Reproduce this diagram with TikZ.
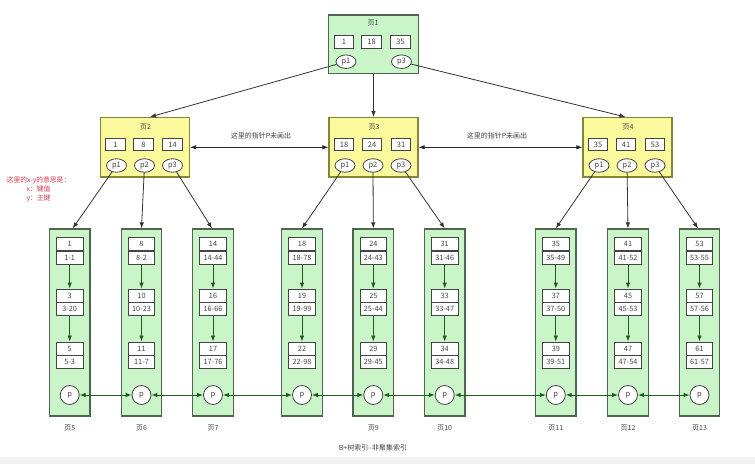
\documentclass[tikz,border=0pt]{standalone}
\usepackage{fontspec}
\setmainfont{Noto Sans CJK SC}
\usetikzlibrary{arrows.meta,shapes.geometric}

\definecolor{leaffill}{HTML}{C9F5C9}
\definecolor{leafline}{HTML}{4F654F}
\definecolor{innerfill}{HTML}{FAFA9C}
\definecolor{innerline}{HTML}{85853A}
\definecolor{notered}{HTML}{D23A55}
\definecolor{linkgreen}{HTML}{1F5A1F}
\definecolor{txtgray}{HTML}{444444}

\tikzset{
  pagebox/.style={draw=leafline, fill=leaffill, line width=1.2pt, inner sep=0pt},
  innerbox/.style={draw=innerline, fill=innerfill, line width=1.2pt, inner sep=0pt,
    minimum width=89pt, minimum height=59.5pt},
  keybox/.style={draw=txtgray, fill=white, line width=0.8pt, inner sep=0pt,
    minimum width=19.5pt, minimum height=12.5pt, font=\fontsize{7.5}{8}\selectfont, text=txtgray},
  ptr/.style={ellipse, draw=txtgray, fill=white, line width=0.8pt, inner sep=0pt,
    minimum width=20pt, minimum height=13.5pt, font=\fontsize{7.5}{8}\selectfont, text=txtgray},
  entry/.style={draw=txtgray, fill=white, line width=0.8pt, inner sep=0pt,
    minimum width=26.5pt, minimum height=13pt, font=\fontsize{7.3}{8}\selectfont, text=txtgray},
  pcirc/.style={circle, draw=txtgray, fill=white, line width=0.8pt, inner sep=0pt,
    minimum size=19pt, font=\fontsize{7.5}{8}\selectfont, text=txtgray},
  title/.style={font=\fontsize{7}{8}\selectfont, text=txtgray, inner sep=0pt},
  caption/.style={font=\fontsize{7}{8}\selectfont, text=txtgray, inner sep=0pt},
  treearrow/.style={draw=black!80, line width=0.8pt, -{Latex[length=6pt,width=4.5pt]}},
  bothways/.style={draw=black!85, line width=0.8pt, {Latex[length=6pt,width=4.5pt]}-{Latex[length=6pt,width=4.5pt]}},
  chainarrow/.style={draw=linkgreen, line width=0.9pt, -{Latex[length=6pt,width=4.5pt]}},
  siblink/.style={draw=linkgreen, line width=0.9pt, {Latex[length=6pt,width=4.5pt]}-{Latex[length=6pt,width=4.5pt]}},
}

% internal page: name, left x, title, three keys
\newcommand{\innerpage}[6]{%
  \node[innerbox] (#1) at (#2+44.5,147.3) {};
  \node[title] (#1t) at (#2+45,127) {#3};
  \node[keybox] (#1k1) at (#2+15,144.5) {#4};
  \node[keybox] (#1k2) at (#2+43,144.5) {#5};
  \node[keybox] (#1k3) at (#2+72,144.5) {#6};
  \node[ptr] (#1p1) at (#2+16,165.5) {p1};
  \node[ptr] (#1p2) at (#2+44,165.5) {p2};
  \node[ptr] (#1p3) at (#2+72,165.5) {p3};
}

% leaf page: name, centre x, label, three key / key-id pairs
\newcommand{\leafpage}[9]{%
  \node[pagebox, minimum width=40.5pt, minimum height=187pt] (#1) at (#2,322.5) {};
  \node[entry] (#1a) at (#2,244.3) {#4};
  \node[entry, anchor=north] (#1ab) at (#1a.south) {#5};
  \node[entry] (#1b) at (#2,295.5) {#6};
  \node[entry, anchor=north] (#1bb) at (#1b.south) {#7};
  \node[entry] (#1c) at (#2,348.5) {#8};
  \node[entry, anchor=north] (#1cb) at (#1c.south) {#9};
  \node[pcirc] (#1p) at (#2,395) {p};
  \draw[chainarrow] (#1ab.south) -- (#1b.north);
  \draw[chainarrow] (#1bb.south) -- (#1c.north);
  \node[caption] (#1l) at (#2,428.5) {#3};
}

\begin{document}
\begin{tikzpicture}[x=1pt, y=-1pt]
  \useasboundingbox (0,0) rectangle (755,464);
  \fill[white] (0,0) rectangle (755,457);
  \fill[black!5] (0,457) rectangle (755,464);

  % root page
  \node[pagebox, minimum width=90pt, minimum height=58.5pt] (root) at (373.5,44.3) {};
  \node[title] (roott) at (373,23.5) {页1};
  \node[keybox] (rootk1) at (344,42) {1};
  \node[keybox] (rootk2) at (371.5,42) {18};
  \node[keybox] (rootk3) at (400.5,42) {35};
  \node[ptr] (rootp1) at (346,61.7) {p1};
  \node[ptr] (rootp3) at (401.5,61.7) {p3};

  % second level
  \innerpage{pgB}{100.5}{页2}{1}{8}{14}
  \innerpage{pgC}{329}{页3}{18}{24}{31}
  \innerpage{pgD}{583}{页4}{35}{41}{53}

  % leaf level
  \leafpage{lfE}{69.7}{页5}{1}{1-1}{3}{3-20}{5}{5-3}
  \leafpage{lfF}{141.5}{页6}{8}{8-2}{10}{10-23}{11}{11-7}
  \leafpage{lfG}{213}{页7}{14}{14-44}{16}{16-66}{17}{17-76}
  \leafpage{lfH}{302}{}{18}{18-78}{19}{19-99}{22}{22-98}
  \leafpage{lfI}{373.3}{页9}{24}{24-43}{25}{25-44}{29}{29-45}
  \leafpage{lfJ}{444.7}{页10}{31}{31-46}{33}{33-47}{34}{34-48}
  \leafpage{lfK}{555.8}{页11}{35}{35-49}{37}{37-50}{39}{39-51}
  \leafpage{lfL}{628}{页12}{41}{41-52}{45}{45-53}{47}{47-54}
  \leafpage{lfM}{699.5}{页13}{53}{53-55}{57}{57-56}{61}{61-57}

  % root to second level
  \draw[treearrow] (rootp1) -- ([xshift=5pt]pgB.north);
  \draw[treearrow] (root.south) -- (pgC.north);
  \draw[treearrow] (rootp3) -- ([xshift=-2pt]pgD.north);

  % sibling pointers on the second level
  \draw[bothways] (pgB.east) -- (pgC.west);
  \draw[bothways] (pgC.east) -- (pgD.west);
  \node[caption] (noteBC) at (261,135.5) {这里的指针P未画出};
  \node[caption] (noteCD) at (497,135.5) {这里的指针P未画出};

  % second level to leaves
  \draw[treearrow] (pgBp1) -- ([xshift=3pt]lfE.north);
  \draw[treearrow] (pgBp2) -- (lfF.north);
  \draw[treearrow] (pgBp3) -- ([xshift=-1pt]lfG.north);
  \draw[treearrow] (pgCp1) -- (lfH.north);
  \draw[treearrow] (pgCp2) -- (lfI.north);
  \draw[treearrow] (pgCp3) -- (lfJ.north);
  \draw[treearrow] (pgDp1) -- (lfK.north);
  \draw[treearrow] (pgDp2) -- (lfL.north);
  \draw[treearrow] (pgDp3) -- ([xshift=-1.5pt]lfM.north);

  % leaf chain
  \draw[siblink] (lfEp) -- (lfFp);
  \draw[siblink] (lfFp) -- (lfGp);
  \draw[siblink] (lfGp) -- (lfHp);
  \draw[siblink] (lfHp) -- (lfIp);
  \draw[siblink] (lfIp) -- (lfJp);
  \draw[siblink] (lfJp) -- (lfKp);
  \draw[siblink] (lfKp) -- (lfLp);
  \draw[siblink] (lfLp) -- (lfMp);

  % legend
  \node[font=\fontsize{6.8}{9}\selectfont, text=notered, align=center, inner sep=0pt]
    (legend) at (38.5,189.5) {这里的x-y的意思是：\\x：键值\\y：主键};

  \node[caption] (figcap) at (373,448) {B+树索引--非聚集索引};
\end{tikzpicture}
\end{document}
